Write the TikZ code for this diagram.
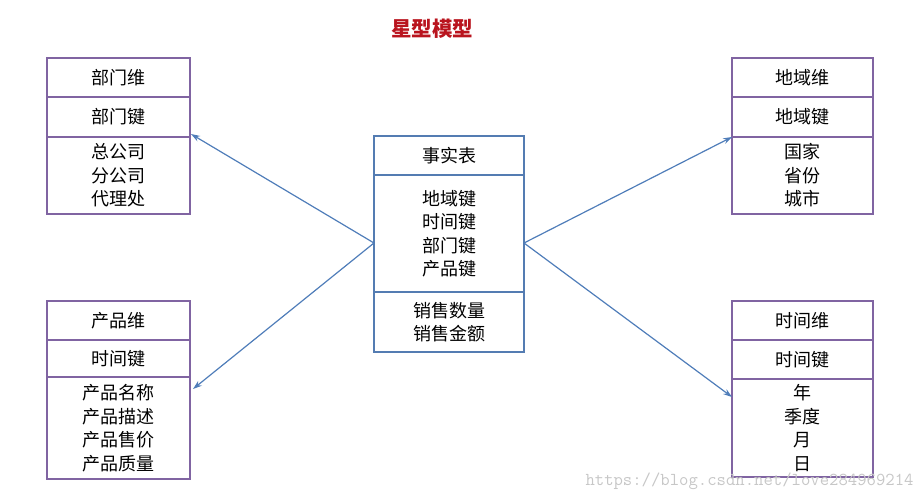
\documentclass[tikz,border=0pt]{standalone}
\usepackage{fontspec}
\newfontfamily\cjk{Noto Sans CJK SC}
\usetikzlibrary{positioning,arrows.meta}
\definecolor{boxpurple}{RGB}{128,100,162}
\definecolor{factblue}{RGB}{84,124,178}
\definecolor{linkblue}{RGB}{79,125,185}
\definecolor{titlered}{RGB}{185,20,30}
\tikzset{
	cell/.style={draw=boxpurple, line width=2.6pt, minimum width=143pt, outer sep=0pt, inner sep=0pt, align=center, font=\cjk\fontsize{18}{23.5}\selectfont},
	rcell/.style={cell, minimum width=141pt},
	factcell/.style={cell, draw=factblue, minimum width=150pt},
	link/.style={draw=linkblue, line width=1.2pt, -{Stealth[length=9pt, width=6pt]}}
}

\begin{document}
\begin{tikzpicture}[x=1pt, y=-1pt]
	\useasboundingbox (0,0) rectangle (924,500);
	\node[font=\cjk\bfseries\fontsize{20.5}{24}\selectfont, text=titlered] (title) at (432,29) {星型模型};
	% dimension boxes, left
	\node[cell, minimum height=39pt, anchor=north west] (dept) at (47,58) {部门维};
	\node[cell, minimum height=40pt, below=0pt of dept] (deptkey) {部门键};
	\node[cell, minimum height=77pt, below=0pt of deptkey] (deptlist) {总公司\\分公司\\代理处};
	\node[cell, minimum height=39pt, anchor=north west] (prod) at (47,301) {产品维};
	\node[cell, minimum height=37pt, below=0pt of prod] (prodkey) {时间键};
	\node[cell, minimum height=102pt, below=0pt of prodkey] (prodlist) {产品名称\\产品描述\\产品售价\\产品质量};
	% fact table
	\node[factcell, minimum height=39pt, anchor=north west] (fact) at (374,136) {事实表};
	\node[factcell, minimum height=117pt, below=0pt of fact] (factkeys) {地域键\\时间键\\部门键\\产品键};
	\node[factcell, minimum height=60pt, below=0pt of factkeys] (factsum) {销售数量\\销售金额};
	% dimension boxes, right
	\node[rcell, minimum height=39pt, anchor=north west] (area) at (732,58) {地域维};
	\node[rcell, minimum height=40pt, below=0pt of area] (areakey) {地域键};
	\node[rcell, minimum height=77pt, below=0pt of areakey] (arealist) {国家\\省份\\城市};
	\node[rcell, minimum height=39pt, anchor=north west] (time) at (732,301) {时间维};
	\node[rcell, minimum height=39pt, below=0pt of time] (timekey) {时间键};
	\node[rcell, minimum height=98pt, below=0pt of timekey] (timelist) {年\\季度\\月\\日};
	% links
	\draw[link] ([yshift=-9.5pt]factkeys.west) -- ([xshift=1pt, yshift=3pt]deptkey.south east);
	\draw[link] ([yshift=-9.5pt]factkeys.west) -- ([xshift=3pt, yshift=-12pt]prodlist.north east);
	\draw[link] ([yshift=-9.5pt]factkeys.east) -- (arealist.north west);
	\draw[link] ([yshift=-9.5pt]factkeys.east) -- ([yshift=-18pt]timelist.north west);
	\node[text=black!22, font=\ttfamily\fontsize{18.2}{18.2}\selectfont] (mark) at (749.5,481) {https://blog.csdn.net/love284969214};
\end{tikzpicture}
\end{document}
